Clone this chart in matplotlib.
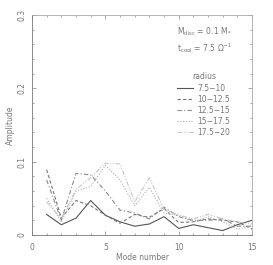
import matplotlib
matplotlib.use("Agg")
import matplotlib.pyplot as plt
from matplotlib.ticker import MultipleLocator
import numpy as np

modes = np.arange(1, 16)
labels = ["7.5\u221210", "10\u221212.5", "12.5\u221215", "15\u221217.5", "17.5\u221220"]
amp_75_10 = [0.028, 0.014, 0.023, 0.047, 0.027, 0.018, 0.012, 0.015, 0.025, 0.009, 0.014, 0.010, 0.006, 0.014, 0.020]
amp_10_125 = [0.089, 0.023, 0.047, 0.040, 0.027, 0.016, 0.028, 0.024, 0.036, 0.017, 0.018, 0.022, 0.020, 0.018, 0.008]
amp_125_15 = [0.075, 0.020, 0.084, 0.082, 0.060, 0.034, 0.030, 0.022, 0.038, 0.025, 0.020, 0.020, 0.022, 0.012, 0.012]
amp_15_175 = [0.050, 0.018, 0.060, 0.066, 0.095, 0.075, 0.040, 0.065, 0.030, 0.027, 0.018, 0.025, 0.018, 0.008, 0.012]
amp_175_20 = [0.045, 0.022, 0.062, 0.078, 0.098, 0.097, 0.045, 0.078, 0.035, 0.027, 0.022, 0.028, 0.022, 0.018, 0.015]
series = [amp_75_10, amp_10_125, amp_125_15, amp_15_175, amp_175_20]

styles = ["-", (0, (3, 2)), (0, (4, 2, 1, 2)), (0, (1, 1.5)), (0, (4, 1.5, 1, 1.5, 1, 1.5))]
colors = ["#555555", "#777777", "#8a8a8a", "#b0b0b0", "#c4c4c4"]
tc = "#777777"

fig = plt.figure(figsize=(2.73, 2.65), dpi=100)
ax = fig.add_axes([32 / 273, 30 / 265, 220 / 273, 220 / 265])

for y, ls, c, lab in zip(series, styles, colors, labels):
    ax.plot(modes, y, linestyle=ls, color=c, lw=0.8, label=lab)

ax.set_xlim(0, 15)
ax.set_ylim(0, 0.3)
ax.xaxis.set_minor_locator(MultipleLocator(1))
ax.yaxis.set_minor_locator(MultipleLocator(0.02))
ax.set_xticks([0, 5, 10, 15])
ax.set_xticklabels(["0", "5", "10", "15"], color=tc, fontsize=5.5)
ax.set_yticks([0, 0.1, 0.2, 0.3])
ax.set_yticklabels(["0", "0.1", "0.2", "0.3"], color=tc, fontsize=5.5, rotation=90, va="center")
ax.tick_params(which="both", direction="in", top=True, right=True, color="#999999", width=0.6)
ax.tick_params(which="major", length=3)
ax.tick_params(which="minor", length=1.5)
ax.tick_params(axis="x", pad=6)
ax.tick_params(axis="y", pad=4)
for s in ax.spines.values():
    s.set_color("#aaaaaa")
    s.set_linewidth(0.6)
ax.spines["left"].set_color("#777777")
ax.spines["bottom"].set_color("#777777")

ax.set_xlabel("Mode number", color=tc, fontsize=5.5)
ax.xaxis.set_label_coords(0.5, -0.08)
ax.set_ylabel("Amplitude", color=tc, fontsize=5.5, labelpad=2)

ax.text(0.66, 0.91, r"M$_{\rm disc}$ = 0.1 M$_*$", transform=ax.transAxes, color=tc, fontsize=5.5)
ax.text(0.66, 0.835, r"t$_{\rm cool}$ = 7.5 $\Omega^{-1}$", transform=ax.transAxes, color=tc, fontsize=5.5)

leg = ax.legend(loc="upper left", bbox_to_anchor=(0.63, 0.77), frameon=False, fontsize=5.5,
                title="radius", title_fontsize=5.5, handlelength=2.0, handletextpad=0.6,
                labelspacing=0.28, labelcolor=tc)
leg.get_title().set_color(tc)

fig.savefig("out.png", dpi=100)
